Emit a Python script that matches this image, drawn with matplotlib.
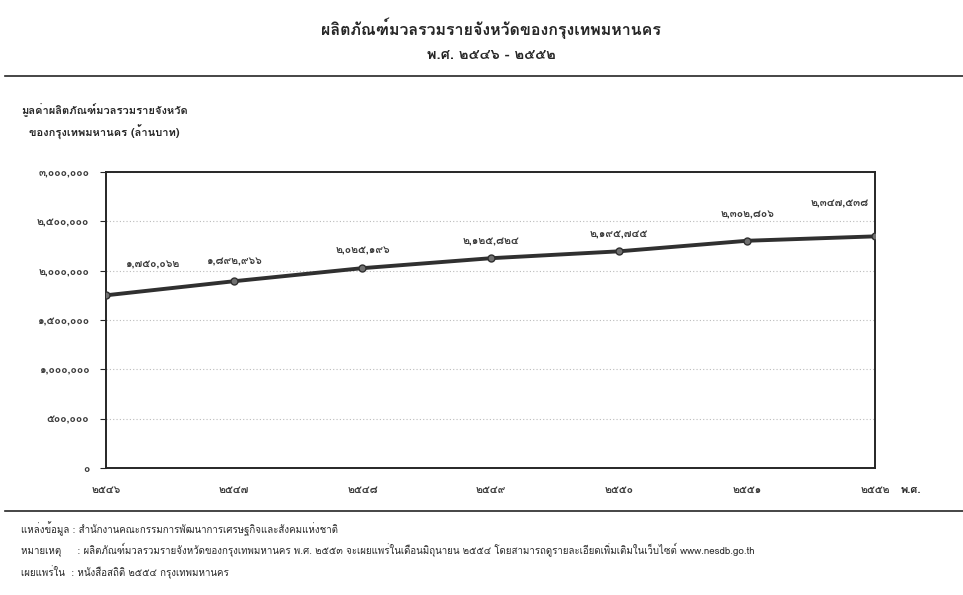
import matplotlib
matplotlib.use("Agg")
import matplotlib.pyplot as plt
from matplotlib import font_manager
from fontTools.ttLib import TTFont

# years (Buddhist era) and GPP of Bangkok, million baht
years = [2546, 2547, 2548, 2549, 2550, 2551, 2552]
gpp = [1750062, 1892966, 2025196, 2125824, 2195745, 2302806, 2347538]
y_ticks = [0, 500000, 1000000, 1500000, 2000000, 2500000, 3000000]

THAI_DIGITS = str.maketrans("0123456789", "๐๑๒๓๔๕๖๗๘๙")


def th(s):
    return str(s).translate(THAI_DIGITS)


def find_thai_font():
    for path in sorted(font_manager.findSystemFonts()):
        try:
            f = TTFont(path, fontNumber=0, lazy=True)
            cmap = f.getBestCmap()
            if cmap and 0x0E01 in cmap and 0x0E52 in cmap:
                return font_manager.FontProperties(fname=path).get_name()
        except Exception:
            continue
    return None


thai = find_thai_font()
fams = [thai, "DejaVu Sans"] if thai else ["DejaVu Sans"]
plt.rcParams["font.family"] = fams

ink = "#262626"

fig = plt.figure(figsize=(9.63, 5.95), dpi=100)
fig.patch.set_facecolor("white")

fig.text(0.51, 0.953, "ผลิตภัณฑ์มวลรวมรายจังหวัดของกรุงเทพมหานคร",
         ha="center", va="center", fontsize=11.5, weight="bold", color=ink)
fig.text(0.51, 0.907, "พ.ศ. " + th(2546) + " - " + th(2552),
         ha="center", va="center", fontsize=10.5, weight="bold", color=ink)
fig.add_artist(plt.Line2D([0.005, 1.0], [0.873, 0.873], color=ink, lw=1.2))

fig.text(0.022, 0.815, "มูลค่าผลิตภัณฑ์มวลรวมรายจังหวัด",
         ha="left", va="center", fontsize=8, weight="bold", color=ink)
fig.text(0.030, 0.777, "ของกรุงเทพมหานคร (ล้านบาท)",
         ha="left", va="center", fontsize=8, weight="bold", color=ink)

ax = fig.add_axes([0.110, 0.2134, 0.799, 0.4976])
x = list(range(len(years)))
ax.plot(x, gpp, color="#303030", lw=2.8, marker="o", markersize=5,
        markerfacecolor="#707070", markeredgecolor="#303030", zorder=3)

ax.set_xlim(0, len(years) - 1)
ax.set_ylim(0, 3000000)
ax.set_yticks(y_ticks)
ax.set_yticklabels([th(f"{v:,}") for v in y_ticks], fontsize=7.5,
                   color="#3a3a3a", weight="bold")
ax.set_xticks(x)
ax.set_xticklabels([th(y) for y in years], fontsize=7.5, color="#3a3a3a",
                   weight="bold")
ax.tick_params(axis="x", length=0, pad=12)
ax.tick_params(axis="y", length=4, direction="out", color=ink, pad=8)
ax.grid(axis="y", color="#bbbbbb", lw=0.8, linestyle=(0, (1, 2)))
for s in ax.spines.values():
    s.set_color(ink)
    s.set_linewidth(1.4)

offsets = [(0.15, 22), (0, 14), (0, 13), (0, 12), (0, 12), (0, 19), (-0.05, 24)]
for xi, v, (dx, dy) in zip(x, gpp, offsets):
    ha = "left" if xi == 0 else ("right" if xi == len(years) - 1 else "center")
    ax.annotate(th(f"{v:,}"), (xi + dx, v), xytext=(0, dy),
                textcoords="offset points", ha=ha, va="center",
                fontsize=7.5, weight="bold", color="#3a3a3a")

fig.text(0.935, 0.176, "พ.ศ.", ha="left", va="center", fontsize=8,
         weight="bold", color=ink)
fig.add_artist(plt.Line2D([0.005, 1.0], [0.142, 0.142], color=ink, lw=1.2))

fig.text(0.022, 0.111,
         "แหล่งข้อมูล : สำนักงานคณะกรรมการพัฒนาการเศรษฐกิจและสังคมแห่งชาติ",
         ha="left", va="center", fontsize=7, color=ink)
fig.text(0.022, 0.075,
         "หมายเหตุ     : ผลิตภัณฑ์มวลรวมรายจังหวัดของกรุงเทพมหานคร พ.ศ. "
         + th(2553) + " จะเผยแพร่ในเดือนมิถุนายน " + th(2554)
         + " โดยสามารถดูรายละเอียดเพิ่มเติมในเว็บไซต์ www.nesdb.go.th",
         ha="left", va="center", fontsize=7, color=ink)
fig.text(0.022, 0.039,
         "เผยแพร่ใน  : หนังสือสถิติ " + th(2554) + " กรุงเทพมหานคร",
         ha="left", va="center", fontsize=7, color=ink)

fig.savefig("out.png", dpi=100, facecolor="white")
